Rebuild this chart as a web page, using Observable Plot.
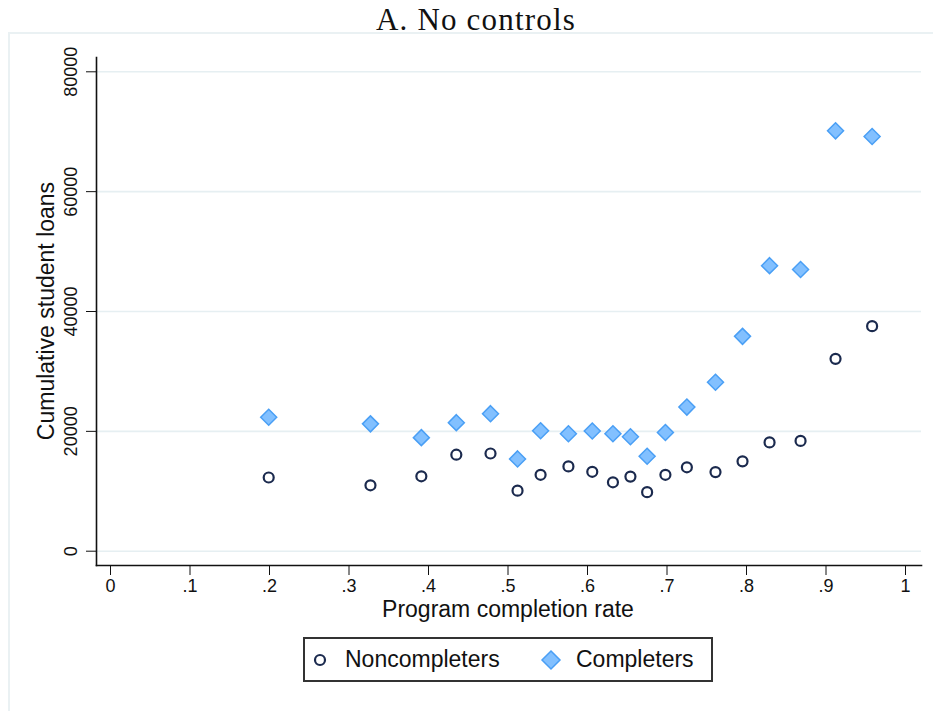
<!DOCTYPE html>
<html lang="en">
<head>
<meta charset="utf-8">
<title>A. No controls</title>
<script src="https://cdn.jsdelivr.net/npm/d3@7"></script>
<script src="https://cdn.jsdelivr.net/npm/@observablehq/plot@0.6"></script>
<style>
  body {
    margin: 0;
    width: 933px;
    height: 711px;
    overflow: hidden;
    background: #fff;
    position: relative;
  }
  #outer {
    position: absolute;
    left: 8px;
    top: 32px;
    width: 1000px;
    height: 800px;
    border-left: 2px solid #eaf1f3;
    border-top: 2px solid #eaf1f3;
  }
  #title {
    position: absolute;
    left: 0;
    top: 4px;
    width: 952px;
    text-align: center;
    font-family: 'Liberation Serif', serif;
    font-size: 31px;
    letter-spacing: 1.2px;
    line-height: 31px;
    color: #111;
  }
  #graphic {
    position: absolute;
    left: 0;
    top: 33px;
  }
  .axlabel {
    position: absolute;
    width: 400px;
    height: 28px;
    line-height: 28px;
    text-align: center;
    font-family: 'Liberation Sans', Arial, sans-serif;
    font-size: 23px;
    color: #111;
  }
  #xlabel { left: 308px; top: 595px; }
  #ylabel { left: -154px; top: 297px; transform: rotate(-90deg); }
  #legend {
    position: absolute;
    left: 303px;
    top: 637px;
    width: 406px;
    height: 41px;
    border: 2px solid #333;
    font-family: 'Liberation Sans', Arial, sans-serif;
    font-size: 23px;
    color: #111;
  }
  #legend svg, #legend span { position: absolute; }
</style>
</head>
<body>
<div id="outer"></div>
<div id="title">A. No controls</div>
<div id="graphic"></div>
<div class="axlabel" id="xlabel">Program completion rate</div>
<div class="axlabel" id="ylabel">Cumulative student loans</div>
<div id="legend">
  <svg style="left:5px;top:11px" width="20" height="20"><circle cx="10" cy="10" r="5" fill="none" stroke="#1b2a4e" stroke-width="2.2"/></svg>
  <span style="left:40px;top:7px">Noncompleters</span>
  <svg style="left:235px;top:10px" width="22" height="22"><path d="M11,2L20,11L11,20L2,11Z" fill="#82c0ff" stroke="#4a9ff5" stroke-width="1.5"/></svg>
  <span style="left:271px;top:7px">Completers</span>
</div>

<script>
  // binned program completion rate
  const rate = [0.199, 0.327, 0.391, 0.435, 0.478, 0.512, 0.541, 0.576, 0.606, 0.632,
                0.654, 0.675, 0.698, 0.725, 0.761, 0.795, 0.829, 0.868, 0.912, 0.958];
  const noncompleters = [12300, 11000, 12500, 16100, 16300, 10100, 12750, 14150, 13250, 11500,
                         12450, 9850, 12750, 14000, 13200, 15000, 18150, 18400, 32100, 37550];
  const completers = [22350, 21250, 18950, 21450, 22950, 15400, 20100, 19600, 20050, 19600,
                      19100, 15850, 19800, 24050, 28200, 35850, 47650, 47000, 70150, 69200];

  const yTicks = [0, 20000, 40000, 60000, 80000];
  const xTicks = [0, 0.1, 0.2, 0.3, 0.4, 0.5, 0.6, 0.7, 0.8, 0.9, 1];
  const xTickLabels = ["0", ".1", ".2", ".3", ".4", ".5", ".6", ".7", ".8", ".9", "1"];

  const data = rate.map((r, i) => ({rate: r, non: noncompleters[i], comp: completers[i]}));

  const options = {
    width: 933,
    height: 592,
    marginLeft: 96, marginRight: 12, marginTop: 24, marginBottom: 60,
    insetLeft: 14, insetRight: 16, insetTop: 14.3, insetBottom: 14.3,
    style: {fontFamily: "'Liberation Sans', Arial, sans-serif", fontSize: "18px", color: "#111", background: "transparent"},
    x: {domain: [0, 1]},
    y: {domain: [0, 80000]},
    marks: [
      Plot.gridY(yTicks, {stroke: "#e6eff2", strokeOpacity: 1, strokeWidth: 1.6}),
      Plot.frame({anchor: "left", stroke: "#111", strokeWidth: 1.6}),
      Plot.frame({anchor: "bottom", stroke: "#111", strokeWidth: 1.6}),
      Plot.axisY(yTicks, {tickSize: 10, tickPadding: 10, tickRotate: -90, tickFormat: d => String(d),
        label: null, fontSize: 18}),
      Plot.axisX(xTicks, {tickSize: 10, tickPadding: 4, tickFormat: (d, i) => xTickLabels[i],
        label: null, fontSize: 18}),
      Plot.dot(data, {x: "rate", y: "non", r: 5, stroke: "#1b2a4e", strokeWidth: 2.2, fill: "none"}),
      Plot.dot(data, {x: "rate", y: "comp", symbol: "diamond2", r: 7.2, fill: "#82c0ff", stroke: "#4a9ff5", strokeWidth: 1.5})
    ]
  };
  document.getElementById('graphic').appendChild(Plot.plot(options));
</script>
</body>
</html>
